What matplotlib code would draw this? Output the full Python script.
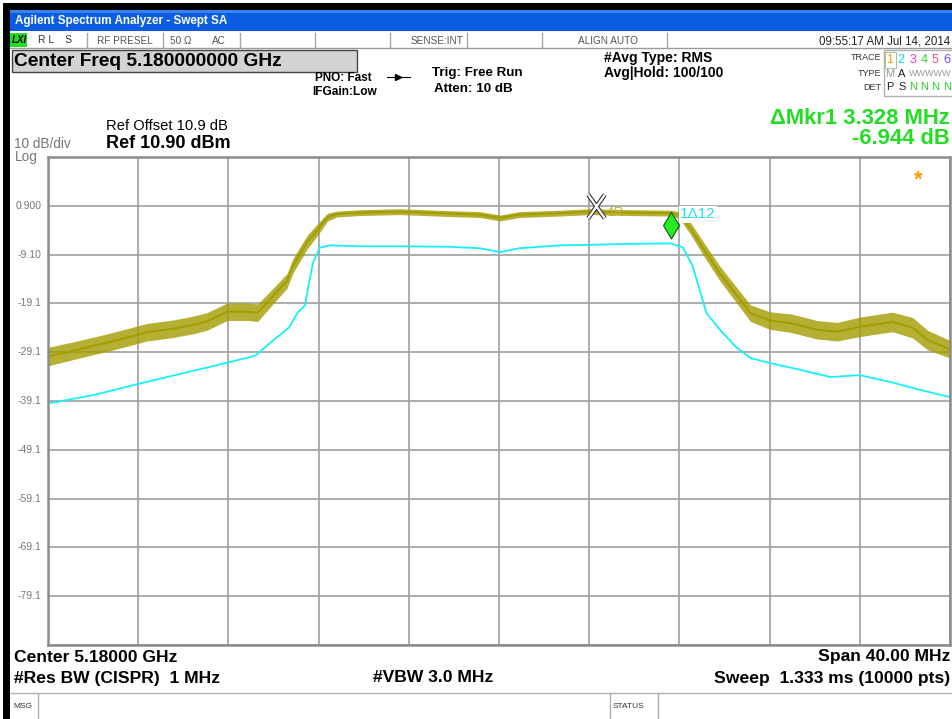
import matplotlib.pyplot as plt
from matplotlib.patches import Rectangle
from matplotlib.lines import Line2D
from matplotlib.path import Path

# frequency offsets from center (MHz) and levels (dBm)
center_ghz = 5.18
span_mhz = 40.0
ref_level = 10.9
db_per_div = 10

# trace 1 (max hold, olive): centre of the noisy band plus its lower/upper edge
trace1_freq = [-20.0, -18.7, -17.25, -15.6, -14.45, -13.55, -12.95, -12.05, -11.15, -10.7,
               -10.0, -9.4, -9.15, -8.5, -8.05, -7.6, -7.2, -6.2, -4.4, -2.2,
               -0.85, 0.05, 0.9, 2.7, 4.05, 5.8, 7.6, 8.0, 8.5, 9.15,
               9.8, 10.5, 11.15, 12.0, 13.0, 14.1, 15.0, 16.0, 17.45, 18.35,
               19.0, 20.0]
trace1_level = [-30.0, -28.6, -27.0, -25.0, -24.3, -23.5, -22.8, -20.8, -20.8, -21.0,
                -17.5, -14.5, -11.5, -6.5, -4.0, -1.4, -0.8, -0.5, -0.3, -0.7,
                -0.9, -1.6, -0.9, -0.6, -0.3, -0.5, -0.6, -1.0, -3.8, -8.5,
                -13.0, -17.2, -21.1, -22.6, -23.2, -24.5, -24.9, -23.9, -22.9, -24.1,
                -26.6, -28.5]
trace1_lo = [-31.9, -30.4, -28.8, -26.8, -26.1, -25.3, -24.6, -22.6, -22.6, -22.8,
             -19.1, -16.0, -13.0, -7.9, -5.2, -2.2, -1.4, -1.1, -0.9, -1.3,
             -1.5, -2.2, -1.5, -1.2, -0.9, -1.1, -1.2, -1.7, -5.0, -9.9,
             -14.5, -18.8, -22.8, -24.4, -25.1, -26.4, -26.8, -25.9, -24.9, -26.2,
             -28.6, -30.3]
trace1_hi = [-28.1, -26.8, -25.2, -23.2, -22.5, -21.7, -21.0, -19.0, -19.0, -19.2,
             -15.9, -13.0, -10.0, -5.1, -2.8, -0.6, -0.2, 0.1, 0.3, -0.1,
             -0.3, -1.0, -0.3, 0.0, 0.3, 0.1, 0.0, -0.3, -2.6, -7.1,
             -11.5, -15.6, -19.4, -20.8, -21.3, -22.6, -23.0, -21.9, -20.9, -22.0,
             -24.6, -26.7]

# trace 2 (average, cyan)
trace2_freq = [-20.0, -18.0, -16.0, -14.0, -12.0, -10.8, -10.2, -9.3, -8.95, -8.6,
               -8.45, -8.25, -7.95, -7.5, -6.2, -4.4, -2.2, -0.85, 0.05, 0.9,
               2.7, 4.05, 5.8, 7.6, 8.15, 8.6, 8.9, 9.2, 9.8, 10.5,
               11.15, 12.0, 13.35, 14.7, 16.0, 17.35, 18.65, 20.0]
trace2_level = [-39.6, -37.9, -35.6, -33.4, -31.2, -29.8, -27.4, -24.0, -21.1, -19.5,
                -15.5, -10.8, -7.7, -7.2, -7.4, -7.4, -7.5, -7.8, -8.6, -7.8,
                -7.2, -7.1, -6.9, -6.8, -7.6, -11.6, -16.4, -21.1, -24.5, -28.0,
                -30.3, -31.3, -32.7, -34.2, -33.8, -35.2, -36.8, -38.3]

y_tick_labels = ["0.900", "-9.10", "-19.1", "-29.1", "-39.1", "-49.1", "-59.1", "-69.1", "-79.1"]

mkr_ref_freq = 4.30
mkr_ref_level = 0.86
mkr_delta_freq = mkr_ref_freq + 3.328
mkr_delta_level = -0.4

W, H = 953, 719
fig = plt.figure(figsize=(W / 100, H / 100), dpi=100)
fig.patch.set_facecolor("white")


def put(x, y, s, **kw):
    kw.setdefault("va", "center")
    kw.setdefault("family", "Liberation Sans")
    fig.text(x / W, 1 - y / H, s, **kw)


def rect(x0, y0, x1, y1, **kw):
    fig.patches.append(Rectangle((x0 / W, 1 - y1 / H), (x1 - x0) / W, (y1 - y0) / H,
                                 transform=fig.transFigure, **kw))


def line(x0, y0, x1, y1, **kw):
    fig.lines.append(Line2D([x0 / W, x1 / W], [1 - y0 / H, 1 - y1 / H],
                            transform=fig.transFigure, **kw))


# window frame + title bar
rect(3, 3, W, 10, facecolor="black", edgecolor="none")
rect(3, 3, 10, H, facecolor="black", edgecolor="none")
rect(10, 10, W, 31, facecolor="#0b5de4", edgecolor="none")
rect(10, 10, W, 13, facecolor="#3a82f0", edgecolor="none")
put(15, 21, "Agilent Spectrum Analyzer - Swept SA", color="white", fontsize=8.4,
    weight="bold")

# status row
line(10, 48, W, 48, color="#9a9a9a", lw=1)
for xs in [87, 163, 240, 315, 390, 467, 542, 667]:
    line(xs, 33, xs, 47, color="#a8a8a8", lw=1)
rect(10, 33, 27, 47, facecolor="#22dd22", edgecolor="none")
put(12, 40, "LXI", fontsize=7, weight="bold", style="italic")
put(38, 40, "R L    S", fontsize=7.5, color="#333333")
put(97, 41, "RF PRESEL", fontsize=7.2, color="#555555")
put(170, 41, "50 Ω", fontsize=7.2, color="#555555")
put(212, 41, "AC", fontsize=7.2, color="#555555")
put(463, 41, "SENSE:INT", fontsize=7.2, color="#555555", ha="right")
put(608, 41, "ALIGN AUTO", fontsize=7.2, color="#555555", ha="center")
put(950, 41, "09:55:17 AM Jul 14, 2014", fontsize=8.3, color="#222222", ha="right")

# settings block
rect(12, 50, 357, 72, facecolor="#d3d3d3", edgecolor="#444444", lw=1)
put(14, 61, "Center Freq 5.180000000 GHz", fontsize=13.8, weight="bold")
put(372, 78, "PNO: Fast", fontsize=8.5, weight="bold", ha="right")
put(377, 92, "IFGain:Low", fontsize=8.6, weight="bold", ha="right")
line(387, 77, 410, 77, color="black", lw=0.8)
fig.lines.append(Line2D([398 / W], [1 - 77 / H], transform=fig.transFigure,
                        marker=">", color="black", ms=4))
put(432, 73, "Trig: Free Run", fontsize=9.6, weight="bold")
put(434, 89, "Atten: 10 dB", fontsize=9.6, weight="bold")
put(604, 58, "#Avg Type: RMS", fontsize=10, weight="bold")
put(604, 73, "Avg|Hold: 100/100", fontsize=10, weight="bold")

# trace table
put(881, 58, "TRACE", fontsize=6.5, color="#333333", ha="right")
put(881, 73, "TYPE", fontsize=6.5, color="#333333", ha="right")
put(881, 87, "DET", fontsize=6.5, color="#333333", ha="right")
rect(884, 50, 955, 96, facecolor="none", edgecolor="#b0b0b0", lw=1)
rect(885, 52, 896, 68, facecolor="none", edgecolor="#99cc99", lw=0.8)
trace_colors = ["#ff9900", "#00d8e8", "#ee33cc", "#33cc33", "#ff4466", "#7744ff"]
for i, c in enumerate(trace_colors):
    put(890 + 11.3 * i, 60, str(i + 1), fontsize=9, color=c, ha="center")
put(890, 74, "M", fontsize=8, color="#999999", ha="center")
put(902, 74, "A", fontsize=8, color="#222222", ha="center")
put(930, 73, "WWWWW", fontsize=6.5, color="#999999", ha="center")
put(890, 87, "P", fontsize=8, color="#222222", ha="center")
put(902, 87, "S", fontsize=8, color="#222222", ha="center")
for i in range(4):
    put(913 + 11.3 * i, 87, "N", fontsize=8, color="#22cc22", ha="center")

# marker readout
put(950, 118, "ΔMkr1 3.328 MHz", fontsize=15.8, weight="bold", color="#22dd22", ha="right")
put(950, 139, "-6.944 dB", fontsize=15.8, weight="bold", color="#22dd22", ha="right")

# reference info
put(106, 126, "Ref Offset 10.9 dB", fontsize=10.6)
put(106, 143, "Ref 10.90 dBm", fontsize=13, weight="bold")
put(14, 144, "10 dB/div", fontsize=9.8, color="#777777")
put(15, 157, "Log", fontsize=9.8, color="#777777")

# graticule
ax = fig.add_axes([48 / W, 1 - 645 / H, 902 / W, 488 / H])
bottom = ref_level - 10 * db_per_div
ax.set_xlim(-span_mhz / 2, span_mhz / 2)
ax.set_ylim(bottom, ref_level)
ax.set_xticks([-span_mhz / 2 + 4 * k for k in range(11)])
ax.set_yticks([bottom + db_per_div * k for k in range(11)])
ax.grid(True, color="#a0a0a0", lw=1.2)
ax.tick_params(length=0, labelbottom=False, labelleft=False)
for s in ax.spines.values():
    s.set_color("#8c8c8c")
    s.set_linewidth(1.8)
ax.set_axisbelow(True)
for k, lab in enumerate(y_tick_labels):
    ax.text(-0.007, 1 - (k + 1) / 10, lab, transform=ax.transAxes, ha="right",
            va="center", fontsize=7.5, color="#777777", family="Liberation Sans")

# traces
ax.fill_between(trace1_freq, trace1_lo, trace1_hi, color="#a39c00", alpha=0.8, lw=0)
ax.plot(trace1_freq, trace1_level, color="#a39c00", lw=1.4)
ax.plot(trace2_freq, trace2_level, color="#18f0f8", lw=1.3)

# markers
x_mark = Path([(-0.7, -1), (0.7, 1), (-0.7, 1), (0.7, -1)],
              [Path.MOVETO, Path.LINETO, Path.MOVETO, Path.LINETO])
ax.plot([mkr_ref_freq], [mkr_ref_level], marker=x_mark, ms=17, mew=3.2, color="#333333")
ax.plot([mkr_ref_freq], [mkr_ref_level], marker=x_mark, ms=17, mew=1.6, color="white")
diamond = Path([(0, 0), (0.6, -1), (0, -2), (-0.6, -1), (0, 0)],
               [Path.MOVETO, Path.LINETO, Path.LINETO, Path.LINETO, Path.CLOSEPOLY])
ax.plot([mkr_delta_freq], [mkr_delta_level], marker=diamond, ms=38, mfc="#22ee22",
        mec="#115511", mew=0.8, ls="none")
ax.annotate("1R", (mkr_ref_freq, mkr_ref_level), xytext=(8, -5), textcoords="offset points",
            fontsize=9, color="#b8b030", va="center", family="Liberation Sans")
ax.annotate("1Δ12", (mkr_delta_freq, mkr_delta_level), xytext=(6.5, -1.5),
            textcoords="offset points", fontsize=11, color="#22e0f0", va="center",
            family="Liberation Sans",
            bbox=dict(facecolor="white", edgecolor="none", pad=1))
put(918, 180, "*", fontsize=16, weight="bold", color="#ff9900", ha="center")

# bottom annotations
put(14, 657, "Center 5.18000 GHz", fontsize=12.6, weight="bold")
put(14, 678, "#Res BW (CISPR)  1 MHz", fontsize=12.6, weight="bold")
put(373, 678, "#VBW 3.0 MHz", fontsize=12.6, weight="bold")
put(950, 657, "Span 40.00 MHz", fontsize=12.6, weight="bold", ha="right")
put(950, 678, "Sweep  1.333 ms (10000 pts)", fontsize=12.6, weight="bold", ha="right")

# message bar
line(10, 693, W, 693, color="#b0b0b0", lw=1)
line(38, 694, 38, H, color="#b0b0b0", lw=1)
line(610, 694, 610, H, color="#b0b0b0", lw=1)
line(658, 694, 658, H, color="#b0b0b0", lw=1)
put(13, 706, "MSG", fontsize=6, color="#333333")
put(613, 706, "STATUS", fontsize=6, color="#333333")

fig.savefig("out.png", dpi=100)
